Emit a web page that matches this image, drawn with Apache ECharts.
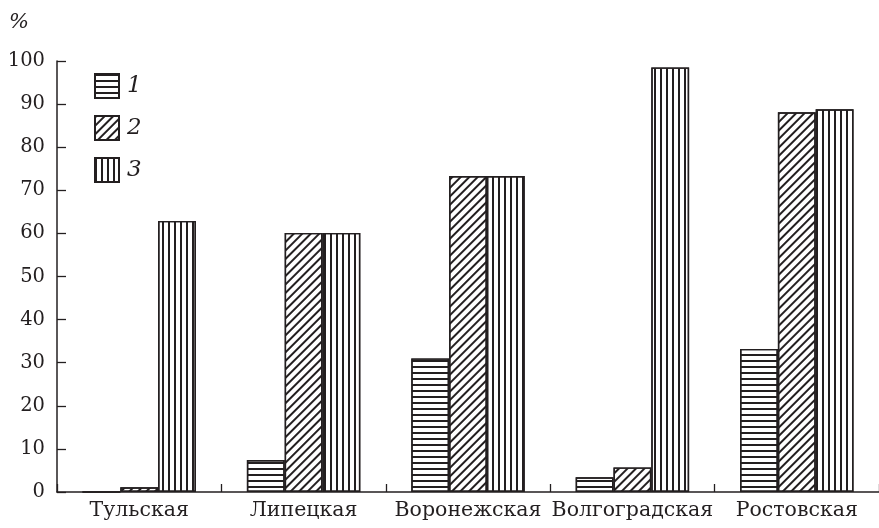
<!DOCTYPE html>
<html>
<head>
<meta charset="utf-8">
<script src="https://cdn.jsdelivr.net/npm/echarts@6/dist/echarts.min.js"></script>
<style>html,body{margin:0;padding:0;background:#fff}#c{width:879px;height:528px}</style>
</head>
<body>
<div id="c"></div>
<script>
var categories = ['Тульская', 'Липецкая', 'Воронежская', 'Волгоградская', 'Ростовская'];
var seriesNames = ['1', '2', '3'];
var values1 = [0, 7.4, 31.0, 3.4, 33.2];
var values2 = [1.1, 60.1, 73.3, 5.7, 88.1];
var values3 = [62.9, 60.1, 73.3, 98.5, 88.8];
var yTicks = [0, 100, 10];

var ink = '#231f20';
var serif = '"DejaVu Serif", serif';

var decals = [
  { symbol: 'rect', symbolSize: 1, color: ink, dashArrayX: [[10, 0]], dashArrayY: [1.2, 3.6], rotation: 0 },
  { symbol: 'rect', symbolSize: 1, color: ink, dashArrayX: [[1.1, 3.4]], dashArrayY: [10, 0], rotation: Math.PI / 4 },
  { symbol: 'rect', symbolSize: 1, color: ink, dashArrayX: [[1.3, 4.0]], dashArrayY: [10, 0], rotation: 0 }
];
var allValues = [values1, values2, values3];

var chart = echarts.init(document.getElementById('c'), null, { renderer: 'canvas' });
chart.setOption({
  animation: false,
  backgroundColor: '#fff',
  textStyle: { fontFamily: serif },
  title: {
    text: '%', left: 9, top: 12, padding: 0,
    textStyle: { fontFamily: serif, fontStyle: 'italic', fontWeight: 'normal', fontSize: 21, color: ink }
  },
  legend: {
    orient: 'vertical', left: 94, top: 73, padding: 0,
    itemWidth: 24, itemHeight: 24, itemGap: 16, icon: 'rect',
    data: seriesNames,
    textStyle: { fontFamily: serif, fontStyle: 'italic', fontSize: 23, color: ink, padding: [0, 0, 0, 3] }
  },
  grid: { left: 57, top: 61, width: 827.5, bottom: 36 },
  xAxis: {
    type: 'category', data: categories,
    axisLine: { lineStyle: { color: ink, width: 1.5 } },
    axisTick: { show: true, inside: true, length: 8, interval: 0, lineStyle: { color: ink, width: 1.3 } },
    axisLabel: { interval: 0, fontFamily: serif, fontSize: 20.5, color: ink, margin: 8 }
  },
  yAxis: {
    type: 'value', min: yTicks[0], max: yTicks[1], interval: yTicks[2],
    splitLine: { show: false },
    axisLine: { show: true, lineStyle: { color: ink, width: 1.5 } },
    axisTick: { show: true, inside: true, length: 9, lineStyle: { color: ink, width: 1.3 } },
    axisLabel: { fontFamily: serif, fontSize: 19.5, color: ink, margin: 12 }
  },
  series: seriesNames.map(function (n, i) {
    return {
      name: n, type: 'bar', data: allValues[i],
      barGap: '0%', barCategoryGap: '31%',
      itemStyle: { color: '#fff', borderColor: ink, borderWidth: 1.4, decal: decals[i] }
    };
  })
});
</script>
</body>
</html>
